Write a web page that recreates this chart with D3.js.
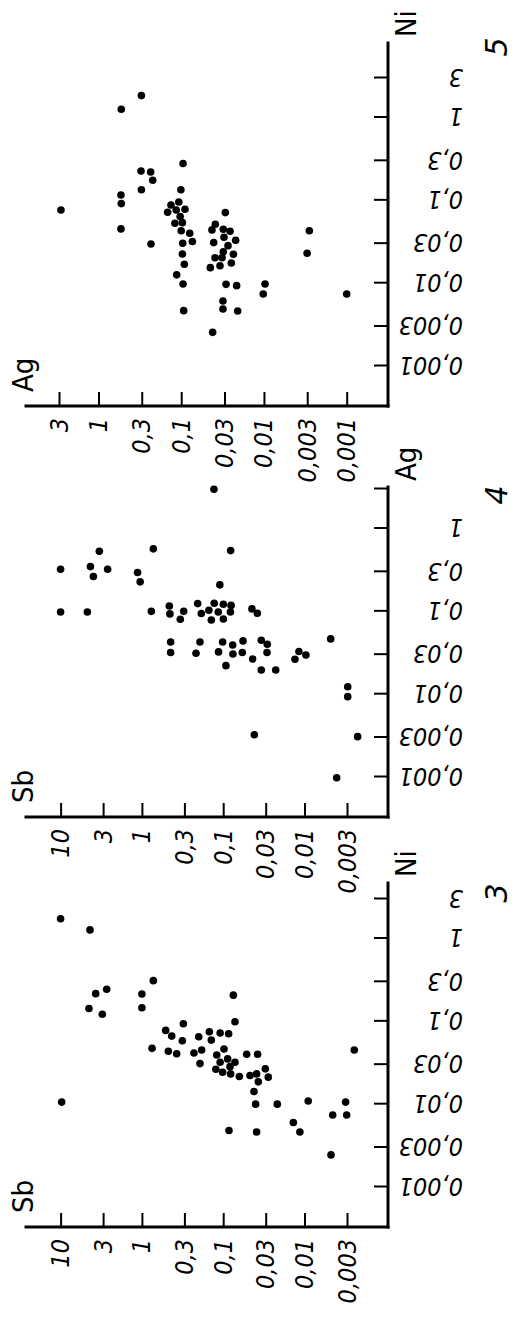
<!DOCTYPE html>
<html>
<head>
<meta charset="utf-8">
<script src="https://cdn.jsdelivr.net/npm/d3@7"></script>
<style>
  html, body { margin: 0; padding: 0; background: #fff; }
  svg { display: block; }
  .tick-label { font-family: "DejaVu Sans Condensed", "DejaVu Sans", sans-serif; font-style: italic; font-size: 25px; fill: #000; }
  .axis-title { font-family: "Liberation Sans Narrow", "DejaVu Sans Condensed", sans-serif; font-size: 29px; fill: #000; }
  .panel-num { font-family: "DejaVu Sans", sans-serif; font-style: italic; font-size: 30px; fill: #000; }
</style>
</head>
<body>
<div id="chart"></div>
<script>
// panel 3: Sb against Ni
const p3Ni = [1.73, 1.27, 0.216, 0.244, 0.143, 0.122, 0.214, 0.146, 0.31, 0.207,
  0.099, 0.0106, 0.0472, 0.0777, 0.0664, 0.0935, 0.0584, 0.0435, 0.0407, 0.0415,
  0.0652, 0.0451, 0.0309, 0.0748, 0.0594, 0.0722, 0.0708, 0.0464, 0.0393, 0.0321,
  0.0352, 0.0321, 0.0264, 0.0243, 0.0284, 0.0232, 0.0216, 0.04, 0.04, 0.0222,
  0.0232, 0.0186, 0.0267, 0.0212, 0.0142, 0.01, 0.01, 0.0109, 0.006, 0.00462,
  0.0048, 0.00462, 0.0074, 0.0106, 0.0074, 0.00244, 0.0451];
const p3Sb = [10, 4.35, 3.7, 2.71, 4.48, 3.07, 1.0, 1.0, 0.723, 0.075,
  0.0716, 9.7, 0.75, 0.51, 0.43, 0.309, 0.318, 0.473, 0.373, 0.229,
  0.2, 0.184, 0.193, 0.148, 0.14, 0.109, 0.0857, 0.0977, 0.12, 0.109,
  0.0881, 0.0716, 0.123, 0.1016, 0.0825, 0.081, 0.0633, 0.0514, 0.0377, 0.0468,
  0.0388, 0.037, 0.0303, 0.0279, 0.0418, 0.0399, 0.0216, 0.009, 0.0137, 0.0114,
  0.0849, 0.0388, 0.0045, 0.00312, 0.00303, 0.00472, 0.00244];

// panel 4: Sb against Ag
const p4Ag = [2.98, 0.568, 0.541, 0.531, 0.322, 0.347, 0.322, 0.263, 0.294, 0.227,
  0.209, 0.0984, 0.0984, 0.1, 0.116, 0.0931, 0.1, 0.0802, 0.124, 0.094,
  0.103, 0.125, 0.0787, 0.0984, 0.122, 0.118, 0.0984, 0.081, 0.107, 0.0949,
  0.0427, 0.0427, 0.0318, 0.0312, 0.0427, 0.0392, 0.044, 0.0324, 0.0306, 0.0318,
  0.0221, 0.0266, 0.0448, 0.04, 0.0318, 0.0196, 0.0196, 0.0264, 0.0327, 0.0297,
  0.0465, 0.0123, 0.00933, 0.00324, 0.00307, 0.00098];
const p4Sb = [0.13, 0.723, 0.081, 3.34, 10, 4.3, 2.64, 3.95, 1.13, 1.05,
  0.11, 10, 4.69, 0.766, 0.46, 0.452, 0.306, 0.337, 0.206, 0.186,
  0.15, 0.129, 0.14, 0.115, 0.0996, 0.08, 0.0815, 0.0995, 0.0443, 0.038,
  0.443, 0.193, 0.443, 0.216, 0.1016, 0.0765, 0.057, 0.114, 0.0759, 0.0582,
  0.0925, 0.0434, 0.034, 0.0287, 0.0289, 0.034, 0.0226, 0.0131, 0.0117, 0.0096,
  0.00476, 0.00294, 0.00294, 0.0414, 0.00222, 0.00402];

// panel 5: Ag against Ni
const p5Ni = [0.0766, 1.26, 1.84, 0.116, 0.0914, 0.0452, 0.226, 0.22, 0.175, 0.134,
  0.0297, 0.278, 0.134, 0.0957, 0.088, 0.0718, 0.0766, 0.078, 0.0637, 0.0528,
  0.0538, 0.043, 0.04, 0.0318, 0.0303, 0.0225, 0.0169, 0.0126, 0.00977, 0.00466,
  0.0711, 0.0514, 0.044, 0.0448, 0.0423, 0.0358, 0.033, 0.0309, 0.0284, 0.024,
  0.0223, 0.0203, 0.0203, 0.0175, 0.0154, 0.0162, 0.00968, 0.00933, 0.0061, 0.00488,
  0.00461, 0.00255, 0.00977, 0.00741, 0.043, 0.023, 0.00741];
const p5Ag = [2.84, 0.53, 0.303, 0.535, 0.53, 0.535, 0.306, 0.234, 0.221, 0.303,
  0.232, 0.095, 0.101, 0.107, 0.133, 0.146, 0.115, 0.09, 0.103, 0.119,
  0.0968, 0.1, 0.079, 0.0733, 0.096, 0.0968, 0.0917, 0.1135, 0.095, 0.0933,
  0.0293, 0.0387, 0.0425, 0.031, 0.0257, 0.0304, 0.022, 0.0405, 0.0272, 0.031,
  0.0234, 0.039, 0.0321, 0.0248, 0.0445, 0.034, 0.0287, 0.0214, 0.0313, 0.0313,
  0.0208, 0.0417, 0.0097, 0.0102, 0.00283, 0.00301, 0.001];

// tick values and their printed labels (decimal comma)
const sbTicks = [10, 3, 1, 0.3, 0.1, 0.03, 0.01, 0.003];
const sbLabels = ["10", "3", "1", "0,3", "0,1", "0,03", "0,01", "0,003"];
const lowTicks = [3, 1, 0.3, 0.1, 0.03, 0.01, 0.003, 0.001];
const lowLabels = ["3", "1", "0,3", "0,1", "0,03", "0,01", "0,003", "0,001"];
const ag4Labels = ["", "1", "0,3", "0,1", "0,03", "0,01", "0,003", "0,001"];

const panels = [
  { num: "3", xName: "Ni", yName: "Sb", xs: p3Ni, ys: p3Sb, xLabels: lowLabels,
    yDomain: [0.003, 10], yTicks: sbTicks, yLabels: sbLabels },
  { num: "4", xName: "Ag", yName: "Sb", xs: p4Ag, ys: p4Sb, xLabels: ag4Labels,
    yDomain: [0.003, 10], yTicks: sbTicks, yLabels: sbLabels },
  { num: "5", xName: "Ni", yName: "Ag", xs: p5Ni, ys: p5Ag, xLabels: lowLabels,
    yDomain: [0.001, 3], yTicks: lowTicks, yLabels: lowLabels }
];

// where each panel sits in the landscape frame (before the page is turned)
const layout = [
  { u0: 90,  len: 344, numU: 424,  yRange: [347, 60.6] },
  { u0: 500, len: 330, numU: 822,  yRange: [347, 60.6] },
  { u0: 911, len: 363, numU: 1270, yRange: [346.7, 59] }
];

const W = 518, H = 1317;
const axisV = 388;   // x axis line
const yTop = 26;     // upper end of y axis line

const svg = d3.select("#chart").append("svg")
  .attr("width", W)
  .attr("height", H);

svg.append("rect").attr("width", W).attr("height", H).attr("fill", "#fff");

// the figure is printed turned by 90 degrees: draw it landscape, then rotate
const root = svg.append("g")
  .attr("transform", `translate(0,${H}) rotate(-90)`);

panels.forEach((p, i) => {
  const L = layout[i];
  const g = root.append("g").attr("class", "panel");

  const x = d3.scaleLog().domain([0.001, 3]).range([L.u0 + 40, L.u0 + 328]);
  const y = d3.scaleLog().domain(p.yDomain).range(L.yRange);

  // y axis (ticks point inward)
  const ya = g.append("g")
    .attr("transform", `translate(${L.u0},0)`)
    .call(d3.axisLeft(y)
      .tickValues(p.yTicks)
      .tickFormat((d, k) => p.yLabels[k])
      .tickSizeInner(-14)
      .tickSizeOuter(0)
      .tickPadding(12));
  ya.select(".domain").remove();
  ya.selectAll(".tick line").attr("stroke", "#000").attr("stroke-width", 2);
  ya.selectAll(".tick text").attr("class", "tick-label");

  // x axis, labels stand upright and hang from a common line
  const xa = g.append("g")
    .attr("transform", `translate(0,${axisV})`)
    .call(d3.axisBottom(x)
      .tickValues(lowTicks)
      .tickFormat((d, k) => p.xLabels[k])
      .tickSizeInner(-14)
      .tickSizeOuter(0));
  xa.select(".domain").remove();
  xa.selectAll(".tick line").attr("stroke", "#000").attr("stroke-width", 2);
  xa.selectAll(".tick text")
    .attr("class", "tick-label")
    .attr("transform", "rotate(-90)")
    .attr("x", -75)
    .attr("y", 0)
    .attr("dy", "0.35em")
    .attr("text-anchor", "start");

  // axis lines
  g.append("line")
    .attr("x1", L.u0).attr("y1", yTop)
    .attr("x2", L.u0).attr("y2", axisV)
    .attr("stroke", "#000").attr("stroke-width", 3).attr("stroke-linecap", "square");
  g.append("line")
    .attr("x1", L.u0).attr("y1", axisV)
    .attr("x2", L.u0 + L.len).attr("y2", axisV)
    .attr("stroke", "#000").attr("stroke-width", 3).attr("stroke-linecap", "square");

  // points
  g.append("g")
    .selectAll("circle")
    .data(p.xs.map((v, k) => [v, p.ys[k]]))
    .join("circle")
    .attr("cx", d => x(d[0]))
    .attr("cy", d => y(d[1]))
    .attr("r", 3.8)
    .attr("fill", "#000");

  // axis names and panel number
  g.append("text").attr("class", "axis-title")
    .attr("x", L.u0 + 14).attr("y", 33)
    .text(p.yName);
  g.append("text").attr("class", "axis-title")
    .attr("x", L.u0 + L.len + 6).attr("y", 416)
    .text(p.xName);
  g.append("text").attr("class", "panel-num")
    .attr("x", L.numU).attr("y", 507)
    .attr("text-anchor", "middle")
    .text(p.num);
});
</script>
</body>
</html>
